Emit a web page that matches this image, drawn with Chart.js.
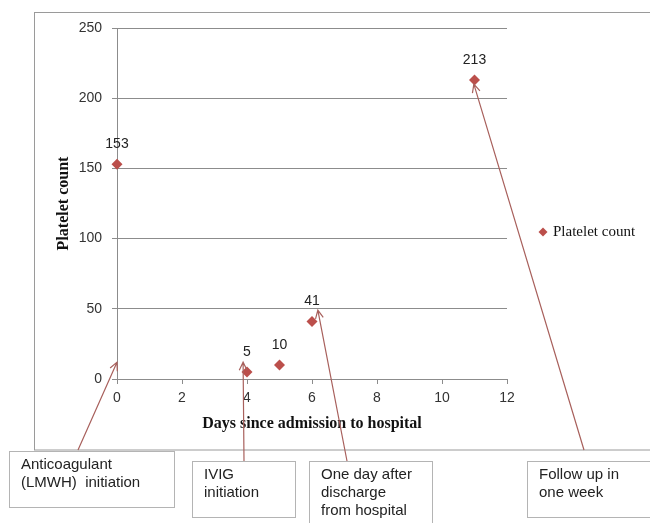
<!DOCTYPE html>
<html>
<head>
<meta charset="utf-8">
<script src="https://cdn.jsdelivr.net/npm/chart.js@4.4.1/dist/chart.umd.min.js"></script>
<style>
  html, body { margin: 0; padding: 0; background: #ffffff; }
  #wrap { width: 650px; height: 523px; position: relative; }
</style>
</head>
<body>
<div id="wrap"><canvas id="plateletChart"></canvas></div>
<script>
// Data
const days = [0, 4, 5, 6, 11];
const plateletCounts = [153, 5, 10, 41, 213];
const xTicks = [0, 2, 4, 6, 8, 10, 12];
const yTicks = [0, 50, 100, 150, 200, 250];

// Annotation boxes: text lines and where each arrow points (in data units)
const noteLines = [
  ["Anticoagulant", "(LMWH)  initiation"],
  ["IVIG", "initiation"],
  ["One day after", "discharge", "from hospital"],
  ["Follow up in", "one week"]
];
const noteTargetDays = [0, 3.88, 6.18, 10.98];
const noteTargetCounts = [12, 12, 49, 210];

const markerColor = '#bb4f4b';
const arrowColor = '#a8605c';
const gridColor = '#8c8c8c';
const tickFont = { family: 'Liberation Sans, Arial, sans-serif', size: 14 };
const titleFont = { family: '"Liberation Serif", "Times New Roman", serif', size: 16, weight: 'bold' };

// box geometry on the page (x, y, w, h) and the arrow start point
const noteBoxes = [
  { x: 9, y: 451, w: 165, h: 56, sx: 78, sy: 450 },
  { x: 192, y: 461, w: 103, h: 56, sx: 244, sy: 461 },
  { x: 309, y: 461, w: 123, h: 70, sx: 347, sy: 461 },
  { x: 527, y: 461, w: 130, h: 56, sx: 584, sy: 450 }
];

const frameAndNotes = {
  id: 'frameAndNotes',
  beforeDraw(chart) {
    const ctx = chart.ctx;
    ctx.save();
    ctx.fillStyle = '#ffffff';
    ctx.fillRect(0, 0, chart.width, chart.height);
    ctx.strokeStyle = '#9a9a9a';
    ctx.lineWidth = 1;
    ctx.strokeRect(34.5, 12.5, 700, 437.5);
    ctx.restore();
  },
  afterDraw(chart) {
    const ctx = chart.ctx;
    const xs = chart.scales.x;
    const ys = chart.scales.y;
    ctx.save();

    // value labels above each point
    ctx.fillStyle = '#222222';
    ctx.font = tickFont.size + 'px ' + tickFont.family;
    ctx.textAlign = 'center';
    ctx.textBaseline = 'middle';
    for (let i = 0; i < days.length; i++) {
      const px = xs.getPixelForValue(days[i]);
      const py = ys.getPixelForValue(plateletCounts[i]);
      ctx.fillText(String(plateletCounts[i]), px, py - 20);
    }

    // legend on the right
    const lx = 543, ly = 232;
    ctx.fillStyle = markerColor;
    ctx.beginPath();
    ctx.moveTo(lx, ly - 4.5);
    ctx.lineTo(lx + 4.5, ly);
    ctx.lineTo(lx, ly + 4.5);
    ctx.lineTo(lx - 4.5, ly);
    ctx.closePath();
    ctx.fill();
    ctx.fillStyle = '#111111';
    ctx.font = '15px "Liberation Serif", "Times New Roman", serif';
    ctx.textAlign = 'left';
    ctx.fillText('Platelet count', 553, ly);

    // arrows from the boxes to the points of interest
    ctx.strokeStyle = arrowColor;
    ctx.lineWidth = 1.2;
    for (let i = 0; i < noteBoxes.length; i++) {
      const b = noteBoxes[i];
      const tx = xs.getPixelForValue(noteTargetDays[i]);
      const ty = ys.getPixelForValue(noteTargetCounts[i]);
      ctx.beginPath();
      ctx.moveTo(b.sx, b.sy);
      ctx.lineTo(tx, ty);
      const ang = Math.atan2(ty - b.sy, tx - b.sx);
      const head = 9;
      ctx.moveTo(tx - head * Math.cos(ang - 0.45), ty - head * Math.sin(ang - 0.45));
      ctx.lineTo(tx, ty);
      ctx.lineTo(tx - head * Math.cos(ang + 0.45), ty - head * Math.sin(ang + 0.45));
      ctx.stroke();
    }

    // the text boxes themselves
    ctx.font = '15px "Liberation Sans", Arial, sans-serif';
    ctx.textBaseline = 'middle';
    for (let i = 0; i < noteBoxes.length; i++) {
      const b = noteBoxes[i];
      ctx.fillStyle = '#ffffff';
      ctx.fillRect(b.x, b.y, b.w, b.h);
      ctx.strokeStyle = '#b4b4b4';
      ctx.lineWidth = 1;
      ctx.strokeRect(b.x + 0.5, b.y + 0.5, b.w, b.h);
      ctx.fillStyle = '#222222';
      noteLines[i].forEach((line, j) => {
        ctx.fillText(line, b.x + 12, b.y + 14 + j * 18);
      });
    }
    ctx.restore();
  }
};

const ctx = document.getElementById('plateletChart').getContext('2d');
const plateletChart = new Chart(ctx, {
  type: 'scatter',
  data: {
    datasets: [{
      label: 'Platelet count',
      data: days.map((d, i) => ({ x: d, y: plateletCounts[i] })),
      pointStyle: 'rectRot',
      pointRadius: 5.5,
      pointHoverRadius: 5.5,
      backgroundColor: markerColor,
      borderColor: markerColor,
      borderWidth: 0,
      showLine: false,
      clip: false
    }]
  },
  options: {
    responsive: true,
    maintainAspectRatio: false,
    animation: false,
    layout: {
      padding: { left: 50, top: 28, right: 143, bottom: 86 }
    },
    scales: {
      x: {
        type: 'linear',
        min: 0,
        max: 12,
        afterBuildTicks: scale => { scale.ticks = xTicks.map(v => ({ value: v })); },
        afterFit: scale => { scale.height = 58; },
        ticks: { color: '#333333', font: tickFont, padding: 6, maxRotation: 0 },
        grid: { drawOnChartArea: false, drawTicks: true, tickLength: 5, color: gridColor },
        border: { display: true, color: gridColor },
        title: {
          display: true,
          text: 'Days since admission to hospital',
          color: '#111111',
          font: titleFont,
          padding: { top: 0, bottom: 4 }
        }
      },
      y: {
        min: 0,
        max: 250,
        afterBuildTicks: scale => { scale.ticks = yTicks.map(v => ({ value: v })); },
        afterFit: scale => { scale.width = 117 - 50; },
        ticks: { color: '#333333', font: tickFont, padding: 10 },
        grid: { color: gridColor, lineWidth: 1, tickLength: 5 },
        border: { display: true, color: gridColor },
        title: {
          display: true,
          text: 'Platelet count',
          color: '#111111',
          font: titleFont,
          padding: { top: 4, bottom: 0 }
        }
      }
    },
    plugins: {
      legend: { display: false },
      tooltip: { enabled: false }
    }
  },
  plugins: [frameAndNotes]
});
</script>
</body>
</html>
